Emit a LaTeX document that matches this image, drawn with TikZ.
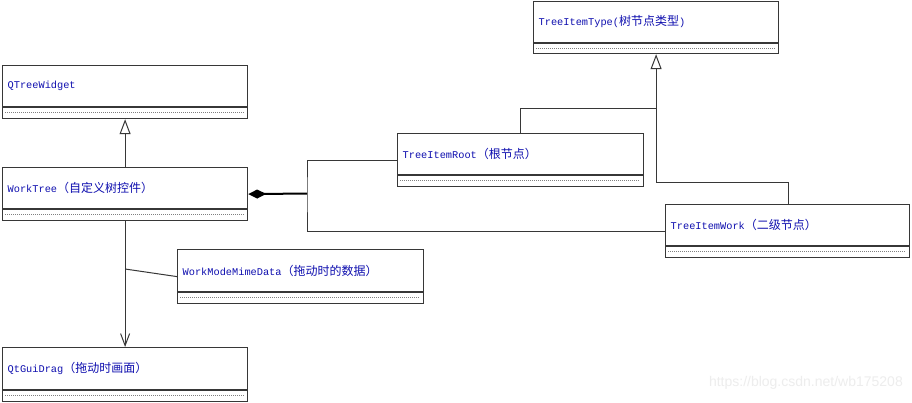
\documentclass[tikz,border=0pt]{standalone}
\usepackage{fontspec}
\newfontfamily\latf{Liberation Mono}
\newfontfamily\cjkff{Noto Sans CJK SC}
\newcommand{\cjkf}{\cjkff\fontsize{12}{14}\selectfont}
\newfontfamily\wmf{Liberation Sans}
\usetikzlibrary{arrows.meta,calc}
\definecolor{txtblue}{RGB}{15,15,175}
\definecolor{edge}{RGB}{55,55,55}
\tikzset{
  umlbox/.style={draw=edge,line width=1.2pt,fill=white,inner sep=0pt,anchor=north west},
  seprule/.style={draw=edge,line width=1.2pt},
  dotrule/.style={draw=gray,line width=0.6pt,dash pattern=on 1pt off 1pt},
  lbl/.style={text=txtblue,anchor=west,inner sep=0pt,font=\fontsize{10.3}{12}\selectfont},
  conn/.style={draw=edge,line width=1pt},
  inh/.style={conn,-{Triangle[open,length=15pt,width=11pt,fill=white]}},
  dep/.style={conn,-{Straight Barb[length=12pt,width=9pt]}},
  comp/.style={draw=black,line width=2pt,{Diamond[length=18pt,width=9pt,fill=black]}-}
}
% name, x1, y1, x2, y2, ysep, text
\newcommand{\umlclass}[7]{%
  \node[umlbox,minimum width={#4-#2},minimum height={#5-#3}] (#1) at (#2,#3) {};
  \draw[seprule] (#2,#6) -- (#4,#6);
  \draw[dotrule] ({#2+3},{(#6+#5)/2}) -- ({#4-3},{(#6+#5)/2});
  \node[lbl] (#1-t) at ({#2+5.5},{(#3+#6)/2}) {#7};
}
\begin{document}
\begin{tikzpicture}[x=1pt,y=-1pt]
\useasboundingbox[fill=white] (0,0) rectangle (912,402);
\umlclass{qtw}{2}{65}{247}{118}{107}{\latf QTreeWidget}
\umlclass{wt}{2}{167}{247}{220}{209}{\latf WorkTree{\cjkf（自定义树控件）}}
\umlclass{type}{533}{1}{778}{53}{43}{\latf TreeItemType({\cjkf 树节点类型})}
\umlclass{root}{397}{133}{643}{186}{175}{\latf TreeItemRoot{\cjkf（根节点）}}
\umlclass{work}{665}{204}{909}{257}{246}{\latf TreeItemWork{\cjkf（二级节点）}}
\umlclass{mime}{177}{249}{423}{303}{292}{\latf WorkModeMimeData{\cjkf（拖动时的数据）}}
\umlclass{drag}{2}{347}{247}{401}{390}{\latf QtGuiDrag{\cjkf（拖动时画面）}}

\coordinate (cj) at (307,193.5);
\coordinate (gj) at ($(type.south)+(0,54)$);
\coordinate (rtop) at ($(root.north west)+(123,0)$);
\coordinate (wtop) at ($(work.north west)+(123,0)$);
\coordinate (wbend) at (wtop |- 0,182);
\coordinate (mj) at (wt.south |- 0,269);

\draw[inh] (wt.north) -- (qtw.south);
\draw[inh] (gj) -- (type.south);
\draw[conn] (rtop) |- (gj);
\draw[conn] (wtop) -- (wbend) -| (gj);
\draw[comp] (wt.east) -- (cj);
\draw[conn] (root.west) -| (cj) |- (work.west);
\draw[dep] (wt.south) -- (drag.north);
\draw[conn] (mj) -- (mime.west);

\node[anchor=east,text=black!7,inner sep=0pt,font=\wmf\fontsize{14}{16}\selectfont] (wm) at (903,383) {https://blog.csdn.net/wb175208};
\end{tikzpicture}
\end{document}
